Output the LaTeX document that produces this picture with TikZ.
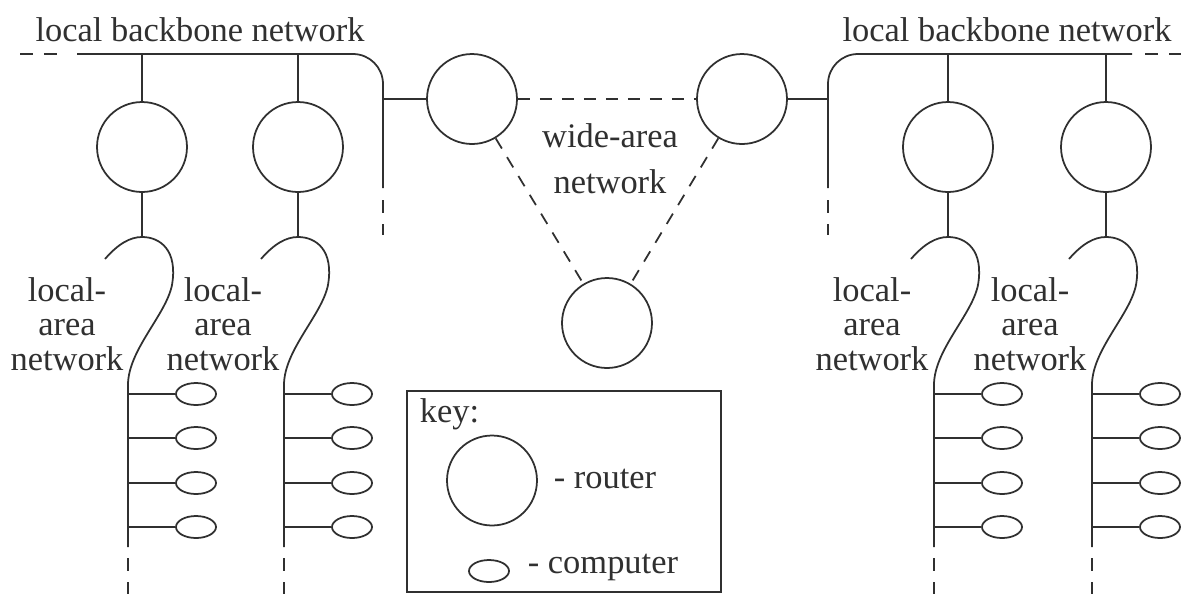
\documentclass[tikz,border=0pt]{standalone}
\usepackage{fontspec}
\setmainfont{Liberation Serif}
\usetikzlibrary{shapes.geometric,positioning}
\definecolor{netink}{HTML}{303030}

\begin{document}
\begin{tikzpicture}[
  x=0.02cm, y=-0.02cm, line width=1pt, color=netink,
  font=\fontsize{19.6}{19.6}\selectfont,
  router/.style={circle, draw, minimum size=1.8cm, inner sep=0pt},
  pc/.style={ellipse, draw, minimum width=0.8cm, minimum height=0.44cm, inner sep=0pt},
  netlabel/.style={align=center, inner sep=0pt},
  wanlink/.style={dash pattern=on 0.24cm off 0.2cm},
  tail/.style={dash pattern=on 0.26cm off 0.22cm},
]
\useasboundingbox (0,0) rectangle (1181,593);

% backbones with their trunks
\node[anchor=base] (bbltext) at (200,41) {local backbone network};
\node[anchor=base] (bbrtext) at (1007,41) {local backbone network};
\draw[tail] (20,54) -- (64,54);
\draw[rounded corners=0.6cm] (77,54) -- (383,54) -- (383,188);
\draw[tail] (383,200) -- (383,235);
\draw[rounded corners=0.6cm] (828,188) -- (828,54) -- (1132,54);
\draw[tail] (828,200) -- (828,235);
\draw[tail] (1145,54) -- (1181,54);

% wide-area network
\node[router] (wl) at (472,99) {};
\node[router] (wr) at (742,99) {};
\node[router] (wb) at (607,323) {};
\coordinate (tkl) at (383,99);
\coordinate (tkr) at (828,99);
\draw (tkl) -- (wl);
\draw (wr) -- (tkr);
\draw[wanlink] (wl) -- (wr);
\draw[wanlink] (wl) -- (wb);
\draw[wanlink] (wr) -- (wb);
\node[netlabel] (wanlbl) at (610,159) {wide-area\\[6.6pt]network};

% local-area networks
\foreach \i/\X/\lx in {1/142/67, 2/298/223, 3/948/872, 4/1106/1030} {
  \node[router] (r\i) at (\X,147) {};
  \coordinate (bb\i) at (\X,54);
  \coordinate (hook\i) at (\X,237);
  \coordinate (lan\i) at (\X-14,385);
  \draw (bb\i) -- (r\i);
  \draw (r\i) -- (hook\i);
  \draw (\X-37,259) .. controls (\X-24,244) and (\X-12,237) .. (hook\i)
    .. controls (\X+18,237) and (\X+36,250) .. (\X+30,285)
    .. controls (\X+24,315) and (\X-14,350) .. (lan\i) -- (\X-14,547);
  \draw[tail] (\X-14,558) -- (\X-14,594);
  \node[netlabel] (lanlbl\i) at (\lx,324) {local-\\area\\network};
  \foreach \j/\y in {1/394, 2/438, 3/483, 4/527} {
    \node[pc] (pc\i\j) at (\X+54,\y) {};
    \draw (pc\i\j.west) -- (lan\i |- pc\i\j.west);
  }
}

% key
\node[draw, minimum width=6.28cm, minimum height=4.02cm] (keybox) at (564,491.5) {};
\node[anchor=base west, inner sep=0pt] (keytitle) at (419,422) {key:};
\node[router] (keyrouter) at (492,480.5) {};
\node[anchor=base west, inner sep=0pt] (keyrtext) at (553,488) {- router};
\node[pc] (keypc) at (489,571) {};
\node[anchor=base west, inner sep=0pt] (keyctext) at (527,573) {- computer};
\end{tikzpicture}
\end{document}
